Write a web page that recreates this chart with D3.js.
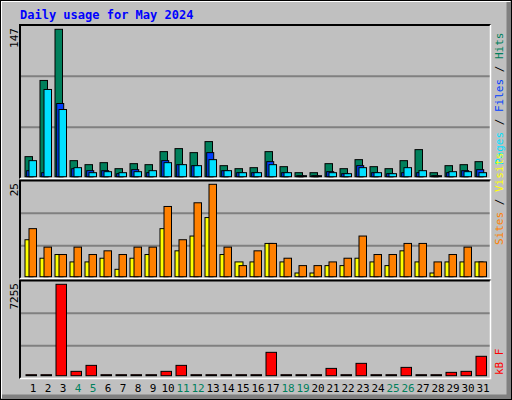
<!DOCTYPE html>
<html><head><meta charset="utf-8">
<script src="https://cdn.jsdelivr.net/npm/d3@7"></script>
<style>body{margin:0;background:#fff}svg{display:block}text{font-family:"DejaVu Sans Mono",monospace}</style>
</head><body><script>
const days = d3.range(1,32);
const weekend = [4,5,11,12,18,19,25,26];
const hits  = [20,96,147,16,12,14,8,13,12,25,28,24,35,11,8,9,25,10,4,4,13,8,17,10,8,16,27,4,11,12,15];
const files = [6,4,73,8,6,6,3,7,4,16,12,11,24,6,4,4,15,4,1,1,5,3,11,4,3,4,4,1,4,6,7];
const pages = [16,87,67,9,4,5,4,5,6,14,12,11,17,6,4,4,12,4,1,1,4,3,9,4,3,9,6,1,5,5,4];
const sites = [10,5,6,4,4,5,2,5,6,13,7,11,16,6,4,4,9,4,1,1,3,3,5,4,3,7,4,1,4,4,4];
const visits= [13,8,6,8,6,7,6,8,8,19,10,20,25,8,3,7,9,5,3,3,4,5,11,6,6,9,9,4,6,8,4];
const kbytes= [0,0,7255,345,820,0,0,0,0,345,820,0,0,0,0,0,1855,0,0,0,580,0,980,0,0,660,0,0,265,345,1540];

const svg = d3.select("body").append("svg").attr("width",512).attr("height",400);
svg.append("rect").attr("width",512).attr("height",400).attr("fill","#C0C0C0");
svg.append("path").attr("d","M1,398V1H510").attr("stroke","#fff").attr("stroke-width",2).attr("fill","none");
svg.append("path").attr("d","M2,397H509V2").attr("stroke","#808080").attr("stroke-width",5).attr("fill","none");
svg.append("rect").attr("x",0.5).attr("y",0.5).attr("width",511).attr("height",399).attr("fill","none").attr("stroke","#000");

svg.append("text").attr("x",20).attr("y",19).attr("fill","#0000FF").attr("font-weight","bold").attr("font-size",12).text("Daily usage for May 2024");

const x = d3.scaleBand().domain(days).range([20,485]).paddingInner(0);
const L=20,R=490.5;
const panels=[{t:25,b:178.5},{t:180.5,b:278.5},{t:280.5,b:378.5}];
panels.forEach(p=>{
  svg.append("rect").attr("x",L).attr("y",p.t).attr("width",R-L).attr("height",p.b-p.t).attr("fill","#C0C0C0");
  const h=(p.b-p.t)/3;
  [1,2].forEach(i=>svg.append("line").attr("x1",L).attr("x2",R).attr("y1",p.t+h*i).attr("y2",p.t+h*i).attr("stroke","#808080").attr("stroke-width",2));
  svg.append("path").attr("d",`M${L},${p.b}V${p.t}H${R}`).attr("stroke","#000").attr("stroke-width",2).attr("fill","none");
  svg.append("path").attr("d",`M${L},${p.b}H${R}V${p.t}`).attr("stroke","#fff").attr("stroke-width",1.5).attr("fill","none");
});

const y1=d3.scaleLinear().domain([0,147]).range([176.7,29.3]);
const y2=d3.scaleLinear().domain([0,25]).range([276.7,184.3]);
const y3=d3.scaleLinear().domain([0,7255]).range([375.7,284.3]);

function bars(data,y,dx,w,color){
  svg.append("g").selectAll("rect").data(data).join("rect")
    .attr("x",(d,i)=>x(days[i])+dx).attr("width",w)
    .attr("y",d=>Math.min(y(d),y(0)-1)).attr("height",d=>Math.max(y(0)-y(d),1))
    .attr("fill",color).attr("stroke","#000").attr("stroke-width",1);
}
bars(hits,y1,5,7.5,"#00805C");
bars(files,y1,6.7,7,"#0040FF");
bars(pages,y1,9,7.5,"#00E0FF");
bars(sites,y2,5,8,"#FFFF00");
bars(visits,y2,9,7.5,"#FF8000");
bars(kbytes,y3,6,10.5,"#FF0000");

svg.append("g").selectAll("text").data(days).join("text")
  .attr("x",d=>x(d)+13).attr("y",392).attr("text-anchor","middle").attr("font-size",11)
  .attr("fill",d=>weekend.includes(d)?"#00805C":"#000").text(d=>d);

function up(xp,yp,anchor,parts){
  const t=svg.append("text").attr("transform",`translate(${xp},${yp}) rotate(-90)`).attr("text-anchor",anchor).attr("font-size",11).attr("xml:space","preserve");
  parts.forEach(p=>t.append("tspan").attr("fill",p[1]).text(p[0]));
}
up(18,28,"end",[["147","#000"]]);
up(18,183,"end",[["25","#000"]]);
up(18,283,"end",[["7255","#000"]]);
up(503,165,"start",[["Pages","#00E0FF"],[" / ","#000"],["Files","#0040FF"],[" / ","#000"],["Hits","#00805C"]]);
up(503,245,"start",[["Sites","#FF8000"],[" / ","#000"],["Visits","#FFFF00"]]);
up(503,375,"start",[["kB F","#FF0000"]]);
</script></body></html>
